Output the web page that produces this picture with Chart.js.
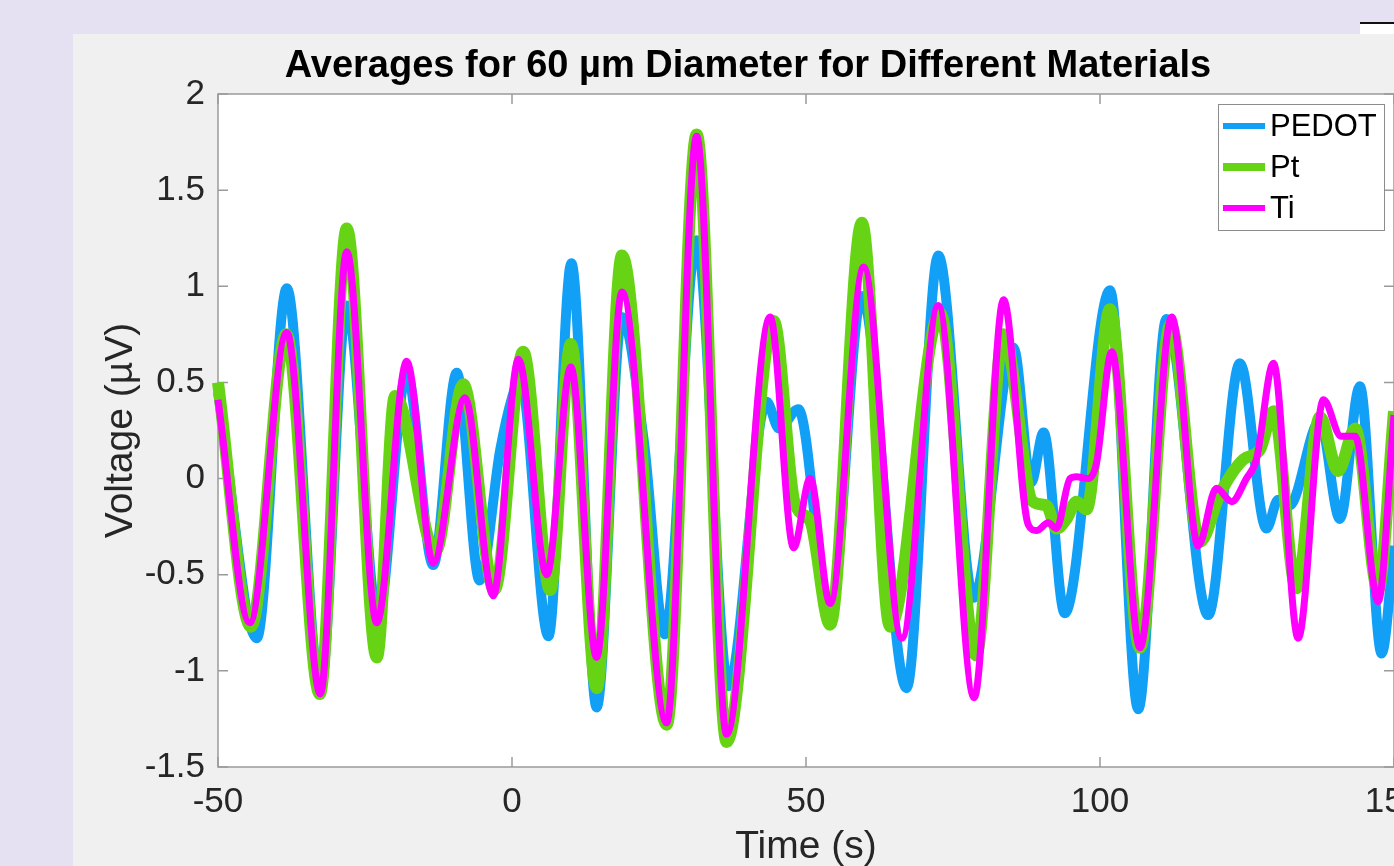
<!DOCTYPE html>
<html>
<head>
<meta charset="utf-8">
<script src="https://cdn.jsdelivr.net/npm/chart.js@4.4.0/dist/chart.umd.min.js"></script>
<style>
    html, body { margin: 0; padding: 0; }
    body { width: 1394px; height: 866px; background: #E6E0F3; position: relative; overflow: hidden; }
    #panel { position: absolute; left: 73px; top: 34px; width: 1321px; height: 832px; background: #F0F0F0; }
    #corner { position: absolute; left: 1360px; top: 22px; width: 34px; height: 12px; background: #fff; border-top: 2px solid #111; box-sizing: border-box; }
</style>
</head>
<body>
<div id="corner"></div>
<div id="panel"><canvas id="voltage-chart"></canvas></div>
<script>
// values (time in s, voltage in µV)
const pedotTime = [-50, -43.4, -38.3, -32.6, -28.1, -22.8, -17.9, -13.4, -9.4, -5.5, -2.0, 0.0, 1.4, 6.2, 10.1, 14.4, 18.7, 22.4, 26.0, 31.4, 36.8, 43.3, 45.4, 48.7, 54.1, 59.5, 67.1, 72.5, 78.5, 85.3, 88.3, 90.4, 94.0, 101.7, 106.5, 111.3, 118.4, 123.8, 128.3, 130.3, 132.2, 137.4, 140.8, 144.2, 147.9, 150];
const pedotVolt = [0.45, -0.83, 0.99, -1.1, 0.9, -0.72, 0.55, -0.45, 0.55, -0.53, 0.15, 0.42, 0.52, -0.82, 1.12, -1.19, 0.84, 0.2, -0.81, 1.24, -1.08, 0.40, 0.26, 0.36, -0.72, 0.95, -1.09, 1.16, -0.62, 0.68, -0.02, 0.24, -0.70, 0.98, -1.2, 0.83, -0.71, 0.60, -0.26, -0.11, -0.14, 0.3, -0.21, 0.48, -0.91, -0.35];

const ptTime = [-50, -44.4, -38.4, -32.7, -28.1, -23.0, -19.9, -13.0, -8.3, -3.0, 1.9, 6.5, 10.0, 14.4, 18.7, 26.3, 31.4, 36.5, 44.5, 48.1, 50.7, 54.1, 59.5, 64.3, 72.8, 78.9, 83.6, 88.6, 90.9, 92.6, 94.3, 96.0, 97.7, 101.7, 106.8, 112.0, 117.0, 120.4, 124.4, 127.2, 129.5, 133.4, 137.4, 140.5, 143.4, 147.3, 150];
const ptVolt = [0.50, -0.77, 0.75, -1.12, 1.30, -0.93, 0.43, -0.38, 0.49, -0.58, 0.66, -0.58, 0.70, -1.09, 1.16, -1.28, 1.79, -1.37, 0.82, -0.13, -0.22, -0.76, 1.33, -0.77, 0.86, -0.92, 0.75, -0.12, -0.14, -0.26, -0.21, -0.12, -0.16, 0.88, -0.88, 0.80, -0.33, -0.08, 0.10, 0.15, 0.35, -0.57, 0.32, 0.04, 0.26, -0.58, 0.35];

const tiTime = [-50, -44.6, -38.3, -32.6, -28.1, -23.0, -17.9, -13.4, -8.0, -3.2, 1.1, 5.9, 10.0, 14.4, 18.7, 26.3, 31.4, 36.5, 43.9, 47.9, 50.7, 54.1, 59.8, 66.3, 72.5, 78.6, 83.6, 87.8, 89.2, 91.2, 92.6, 94.9, 96.0, 98.0, 99.4, 102.0, 106.8, 112.2, 116.7, 119.8, 122.4, 124.9, 126.6, 129.5, 133.7, 138.0, 141.0, 143.4, 147.3, 150];
const tiVolt = [0.41, -0.75, 0.76, -1.12, 1.18, -0.75, 0.61, -0.44, 0.42, -0.61, 0.62, -0.50, 0.58, -0.93, 0.97, -1.27, 1.78, -1.33, 0.84, -0.36, 0.0, -0.65, 1.10, -0.83, 0.90, -1.14, 0.93, -0.24, -0.27, -0.23, -0.26, 0.0, 0.01, 0.0, 0.08, 0.66, -0.88, 0.84, -0.35, -0.05, -0.12, 0.0, 0.1, 0.60, -0.83, 0.41, 0.22, 0.22, -0.64, 0.33];

const xTicks = [-50, 0, 50, 100, 150];
const yTicks = [-1.5, -1, -0.5, 0, 0.5, 1, 1.5, 2];

const fontFamily = '"Liberation Sans", Arial, Helvetica, sans-serif';
const titleText = 'Averages for 60 µm Diameter for Different Materials';

function toPoints(times, values) {
    return times.map(function (t, i) { return { x: t, y: values[i] }; });
}

// white plot area on the grey figure
const plotBackground = {
    id: 'plotBackground',
    beforeDraw: function (chart) {
        const a = chart.chartArea;
        const ctx = chart.ctx;
        ctx.save();
        ctx.fillStyle = '#ffffff';
        ctx.fillRect(a.left, a.top, a.right - a.left, a.bottom - a.top);
        ctx.restore();
    }
};

// box with inward ticks, like matlab axes
const axesBox = {
    id: 'axesBox',
    beforeDatasetsDraw: function (chart) {
        const a = chart.chartArea;
        const ctx = chart.ctx;
        const sx = chart.scales.x;
        const sy = chart.scales.y;
        ctx.save();
        ctx.strokeStyle = '#9a9a9a';
        ctx.lineWidth = 1.5;
        ctx.strokeRect(a.left, a.top, a.right - a.left, a.bottom - a.top);
        ctx.beginPath();
        xTicks.forEach(function (v) {
            const px = sx.getPixelForValue(v);
            ctx.moveTo(px, a.bottom); ctx.lineTo(px, a.bottom - 10);
            ctx.moveTo(px, a.top); ctx.lineTo(px, a.top + 10);
        });
        yTicks.forEach(function (v) {
            const py = sy.getPixelForValue(v);
            ctx.moveTo(a.left, py); ctx.lineTo(a.left + 10, py);
            ctx.moveTo(a.right, py); ctx.lineTo(a.right - 10, py);
        });
        ctx.stroke();
        ctx.restore();
    }
};

const figureTitle = {
    id: 'figureTitle',
    afterDraw: function (chart) {
        const ctx = chart.ctx;
        ctx.save();
        ctx.font = 'bold 38px ' + fontFamily;
        ctx.fillStyle = '#000000';
        ctx.textAlign = 'center';
        ctx.textBaseline = 'alphabetic';
        ctx.fillText(titleText, 675, 43);
        ctx.restore();
    }
};

// legend box in the top right corner
const boxLegend = {
    id: 'boxLegend',
    afterDatasetsDraw: function (chart) {
        const ctx = chart.ctx;
        const x0 = 1145, y0 = 70, w = 166, h = 126;
        ctx.save();
        ctx.fillStyle = '#ffffff';
        ctx.fillRect(x0, y0, w, h);
        ctx.strokeStyle = '#8c8c8c';
        ctx.lineWidth = 1;
        ctx.strokeRect(x0 + 0.5, y0 + 0.5, w, h);
        ctx.font = '31px ' + fontFamily;
        ctx.textBaseline = 'middle';
        chart.data.datasets.forEach(function (ds, i) {
            const y = y0 + 22 + i * 41;
            ctx.strokeStyle = ds.borderColor;
            ctx.lineWidth = ds.legendWidth;
            ctx.beginPath();
            ctx.moveTo(x0 + 5, y);
            ctx.lineTo(x0 + 47, y);
            ctx.stroke();
            ctx.fillStyle = '#000000';
            ctx.fillText(ds.label, x0 + 52, y + 1);
        });
        ctx.restore();
    }
};

const ctx = document.getElementById('voltage-chart').getContext('2d');
const chart = new Chart(ctx, {
    type: 'line',
    data: {
        datasets: [{
            label: 'PEDOT',
            data: toPoints(pedotTime, pedotVolt),
            borderColor: '#12A0F7',
            borderWidth: 10,
            legendWidth: 6,
            order: 2
        }, {
            label: 'Pt',
            data: toPoints(ptTime, ptVolt),
            borderColor: '#66D414',
            borderWidth: 12,
            legendWidth: 8,
            order: 1
        }, {
            label: 'Ti',
            data: toPoints(tiTime, tiVolt),
            borderColor: '#FF00FF',
            borderWidth: 7,
            legendWidth: 6,
            order: 0
        }]
    },
    options: {
        responsive: true,
        maintainAspectRatio: false,
        animation: false,
        layout: { padding: { top: 60, left: 0, right: 0, bottom: 0 } },
        elements: {
            point: { radius: 0 },
            line: { cubicInterpolationMode: 'monotone', fill: false, borderCapStyle: 'butt' }
        },
        datasets: { line: { clip: 12 } },
        plugins: {
            legend: { display: false },
            title: { display: false },
            tooltip: { enabled: false }
        },
        scales: {
            x: {
                type: 'linear',
                min: xTicks[0],
                max: xTicks[xTicks.length - 1],
                grid: { display: false, drawTicks: false },
                border: { display: false },
                afterBuildTicks: function (s) { s.ticks = xTicks.map(function (v) { return { value: v }; }); },
                afterFit: function (s) { s.height = 99; s.paddingLeft = 0; s.paddingRight = 0; },
                ticks: { color: '#262626', font: { size: 35, family: fontFamily }, padding: 14, maxRotation: 0, autoSkip: false, callback: function (v) { return String(v); } },
                title: { display: true, text: 'Time (s)', color: '#262626', font: { size: 39, family: fontFamily, lineHeight: 1 }, padding: { top: 0, bottom: -1 } }
            },
            y: {
                type: 'linear',
                min: yTicks[0],
                max: yTicks[yTicks.length - 1],
                grid: { display: false, drawTicks: false },
                border: { display: false },
                afterBuildTicks: function (s) { s.ticks = yTicks.map(function (v) { return { value: v }; }); },
                afterFit: function (s) { s.width = 145; s.paddingTop = 0; s.paddingBottom = 0; },
                ticks: { color: '#262626', font: { size: 35, family: fontFamily }, padding: 13, callback: function (v) { return String(v); } },
                title: { display: true, text: 'Voltage (µV)', color: '#262626', font: { size: 39, family: fontFamily, lineHeight: 1 }, padding: { top: 29, bottom: 0 } }
            }
        }
    },
    plugins: [plotBackground, axesBox, boxLegend, figureTitle]
});
</script>
</body>
</html>
